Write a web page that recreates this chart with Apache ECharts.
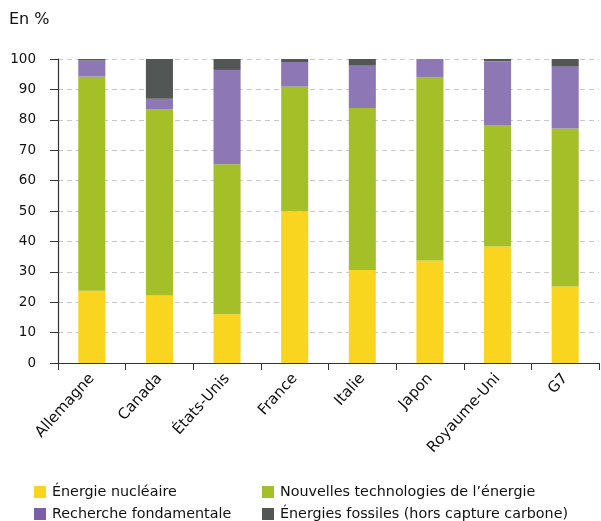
<!DOCTYPE html>
<html><head><meta charset="utf-8">
<script src="https://cdn.jsdelivr.net/npm/echarts@6/dist/echarts.min.js"></script>
<style>html,body{margin:0;padding:0;background:#fff}#c{width:601px;height:521px}</style>
</head><body><div id="c"></div>
<script>
const categories = ['Allemagne','Canada','États-Unis','France','Italie','Japon','Royaume-Uni','G7'];
const nucleaire = [23.8, 22.2, 16.0, 49.9, 30.6, 33.7, 38.3, 25.2];
const nouvelles = [70.4, 61.2, 49.4, 41.0, 53.3, 60.4, 40.0, 51.9];
const recherche = [5.3, 3.5, 31.0, 8.1, 13.9, 5.9, 21.0, 20.4];
const fossiles = [0.5, 13.1, 3.6, 1.0, 2.2, 0, 0.7, 2.5];
const yTicks = [0,10,20,30,40,50,60,70,80,90,100];

const names = ['Énergie nucléaire','Nouvelles technologies de l’énergie','Recherche fondamentale','Énergies fossiles (hors capture carbone)'];
const colors = ['#F9D51F','#A5BF28','#8D77B4','#525756'];
const legendColors = ['#F9D51F','#A5BF28','#7B5FA8','#525756'];
const datas = [nucleaire, nouvelles, recherche, fossiles];
const font = 'DejaVu Sans, Liberation Sans, Arial, sans-serif';

const chart = echarts.init(document.getElementById('c'), null, {renderer:'canvas'});
const legendPos = [[34,485],[262,485],[34,507],[262,507]];
chart.setOption({
  animation:false,
  textStyle:{fontFamily:font},
  graphic:[{type:'text',left:9,top:12,style:{text:'En %',fontSize:16,fill:'#111',fontFamily:font}}],
  legend: names.map((n,i)=>({
    data:[{name:n,itemStyle:{color:legendColors[i]}}], left:legendPos[i][0], top:legendPos[i][1], itemWidth:12, itemHeight:12, itemGap:0,
    icon:'rect', textStyle:{fontSize:14.3,color:'#111',fontFamily:font,padding:[0,0,0,1]}, padding:0
  })),
  grid:{left:58,right:2,top:59,bottom:158},
  xAxis:{type:'category',data:categories,
    axisLine:{lineStyle:{color:'#333',width:1.2}},
    axisTick:{show:true,length:7,lineStyle:{color:'#333'}},
    axisLabel:{rotate:48,fontSize:15,color:'#111',margin:13,interval:0,fontFamily:font}},
  yAxis:{type:'value',min:0,max:100,interval:10,
    axisLine:{show:true,lineStyle:{color:'#333',width:1.2}},
    axisTick:{show:true,length:8,lineStyle:{color:'#333'}},
    axisLabel:{fontSize:13.5,color:'#111',margin:22,fontFamily:font,
      formatter:v=>yTicks.includes(v)?String(v):''},
    splitLine:{show:true,lineStyle:{type:[5,4],color:'#c8c8c8'}}},
  series: names.map((n,i)=>({
    name:n,type:'bar',stack:'total',data:datas[i],barWidth:'40%',
    itemStyle:{color:colors[i]}
  }))
});
</script></body></html>
